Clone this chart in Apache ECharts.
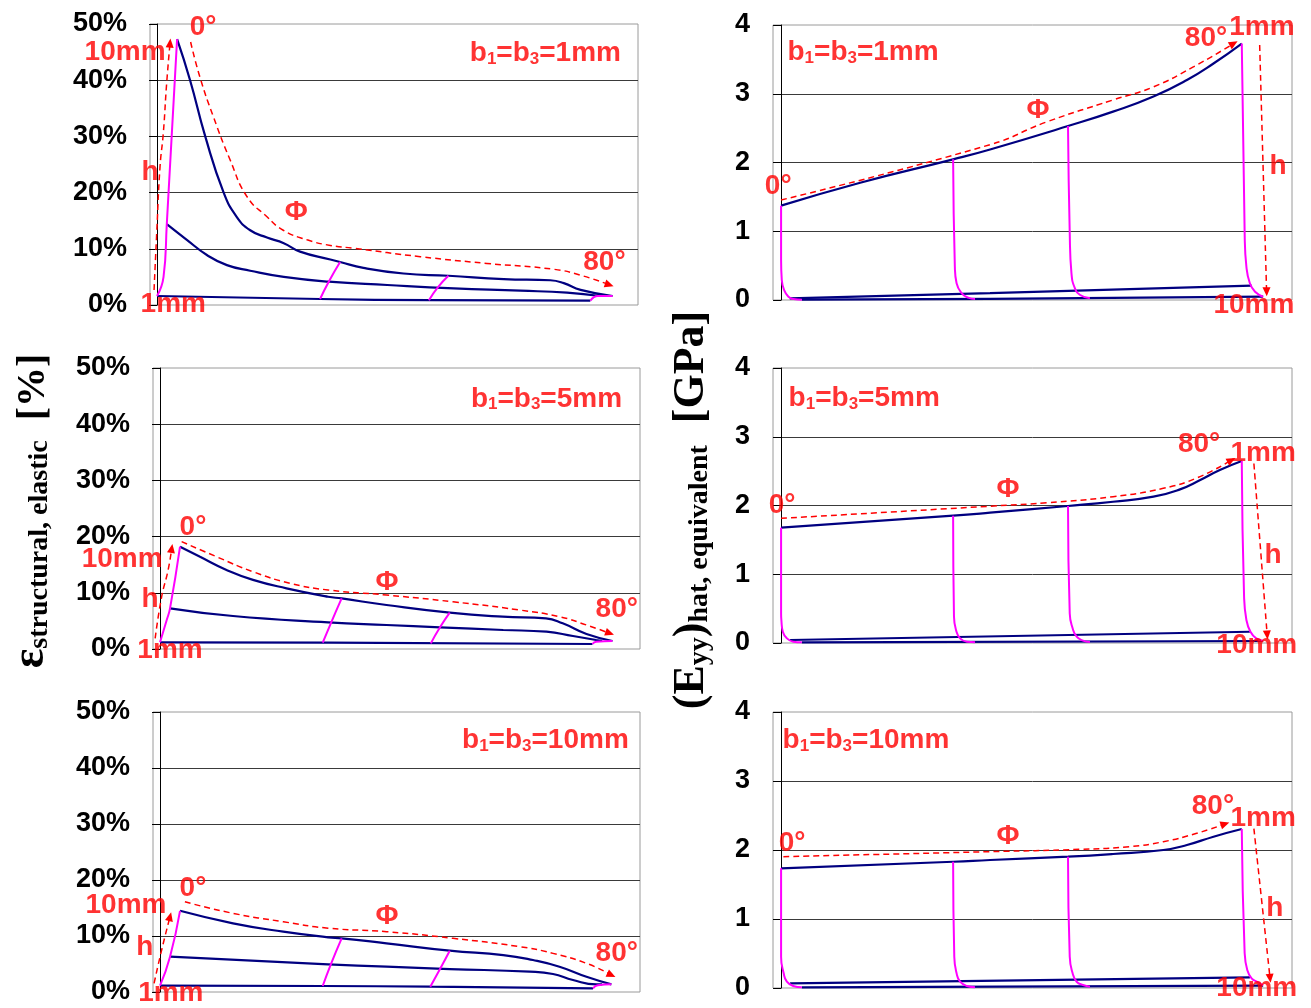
<!DOCTYPE html>
<html>
<head>
<meta charset="utf-8">
<script src="https://cdn.jsdelivr.net/npm/echarts@6/dist/echarts.min.js"></script>
<style>
  html, body { margin: 0; padding: 0; background: #fff; }
  #chart { width: 1311px; height: 1008px; }
</style>
</head>
<body>
<div id="chart"></div>
<script>
// tick labels
const strainTickLabels = ['0%', '10%', '20%', '30%', '40%', '50%'];
const modulusTickLabels = ['0', '1', '2', '3', '4'];
// b1 = b3 for the three rows
const bValues = [1, 5, 10];

// x is the carpet position (phi in degrees, shifted a little for each h), y the value
// ---- top left: strain, b=1mm
const tl_h10 = [[3.7,47.3],[6.1,40],[8.9,30],[12.3,20],[14.7,15.7],[17.2,13.3],[20.3,12.0],[23.4,11.0],[26.4,9.5],[32.0,8.1],[33.8,7.65],[38.1,6.6],[45.5,5.6],[53.8,5.2],[64.0,4.6],[72.6,4.4],[75.1,3.9],[78.2,2.7],[84.1,1.6]];
const tl_hmid = [[1.8,14.4],[5.5,11.6],[9.2,8.9],[12.9,7.1],[17.2,6.1],[23.4,5.0],[31.7,4.15],[42.5,3.56],[54.8,2.97],[67.1,2.55],[75.7,2.19],[81.8,1.6]];
const tl_h1 = [[0,1.6],[30.1,1.07],[50.2,0.85],[80,0.77]];
const tl_p0 = [[0,1.6],[1.2,5.0],[1.8,14.4],[3.7,47.3]];
const tl_p30 = [[30.1,1.07],[31.7,4.15],[33.8,7.65]];
const tl_p50 = [[50.2,0.85],[51.8,3.1],[53.8,5.2]];
const tl_p80 = [[80,0.77],[81.4,1.6],[84.1,1.6]];
const tl_arrowH = [[-0.55,2.67],[-0.06,12.8],[0.55,24.6],[1.16,30.6],[1.78,39.5],[2.4,46.6]];
const tl_arrowPhi = [[6.2,46.8],[7.9,40.6],[10.4,33.5],[13.5,25.8],[16.6,19.3],[20.3,15.7],[23.3,13.3],[27.7,11.6],[32.0,10.6],[36.3,10.1],[48.6,8.6],[60.9,7.4],[73.3,6.35],[78.2,5.3],[83.5,3.6]];
const tl_labels = [[8.5,49.5,'0°'],[-5.9,45.0,'10mm'],[-1.3,23.7,'h'],[25.7,16.5,'Φ'],[82.6,7.65,'80°'],[3.0,0.2,'1mm']];
const tl_title = [71.7,45.0];

// ---- top right: modulus, b=1mm
const tr_h1 = [[0,1.372],[13.7,1.706],[29.8,2.046],[36.2,2.19],[49.7,2.53],[57.5,2.74],[64.5,2.96],[70.3,3.2],[74.9,3.44],[79.8,3.73]];
const tr_hmid = [[1.5,0.025],[36.2,0.1],[81.5,0.21]];
const tr_h10 = [[3.6,0.005],[36.2,0.015],[83.5,0.048]];
const tr_p0 = [[0,1.372],[0,0.582],[0.12,0.291],[0.52,0.145],[1.27,0.048],[2.13,0.015],[3.6,0.005]];
const tr_p30 = [[29.8,2.046],[30.1,0.485],[30.4,0.243],[31.3,0.097],[32.4,0.034],[33.6,0.015]];
const tr_p50 = [[49.7,2.53],[50.0,0.97],[50.3,0.388],[50.9,0.17],[51.8,0.073],[53.5,0.025]];
const tr_p80 = [[79.8,3.73],[80.3,0.97],[80.6,0.485],[81.2,0.243],[82.1,0.12],[83.5,0.048]];
const tr_arrowH = [[82.9,3.71],[84.1,0.12]];
const tr_arrowPhi = [[0,1.455],[36.2,2.26],[46.0,2.59],[57.5,2.91],[64.5,3.10],[71.4,3.39],[78.4,3.73]];
const tr_labels = [[-0.5,1.66,'0°'],[44.5,2.76,'Φ'],[73.6,3.81,'80°'],[83.3,3.97,'1mm'],[86.1,1.95,'h'],[81.9,-0.07,'10mm']];
const tr_title = [14.2,3.62];

// ---- middle left: strain, b=5mm
const ml_h10 = [[3.7,18.2],[7.4,16.4],[12.3,14.06],[17.2,12.3],[23.4,10.8],[31.1,9.3],[33.6,9.0],[41.9,7.83],[53.6,6.46],[63.4,5.75],[71.4,5.46],[74.5,4.57],[78.9,2.67],[83.7,1.42]];
const ml_hmid = [[1.85,7.24],[13.5,5.87],[31.1,4.75],[41.9,4.27],[51.8,3.86],[63.5,3.38],[71.5,3.08],[76.4,2.31],[80.7,1.6],[81.8,1.45]];
const ml_h1 = [[0,1.19],[31.1,1.12],[80,0.89]];
const ml_p0 = [[0,1.19],[1.24,5.16],[1.85,7.24],[3.7,18.2]];
const ml_p30 = [[30.1,1.12],[31.7,4.8],[33.6,9.0]];
const ml_p50 = [[50.1,1.0],[51.8,3.86],[53.6,6.46]];
const ml_p80 = [[80,0.89],[80.7,1.3],[83.7,1.42]];
const ml_arrowH = [[-0.9,1.9],[0.3,9.3],[1.5,14.06],[2.16,17.9]];
const ml_arrowPhi = [[4.0,19.1],[10.5,16.4],[17.2,13.75],[24.0,11.7],[31.1,10.5],[41.9,9.6],[54.2,8.4],[66.5,6.94],[73.9,5.75],[78.9,4.27],[83.2,2.79]];
const ml_labels = [[6.1,21.7,'0°'],[-7.0,16.0,'10mm'],[-1.85,8.9,'h'],[42.0,11.9,'Φ'],[84.5,7.1,'80°'],[1.85,-0.2,'1mm']];
const ml_title = [71.5,44.7];

// ---- middle right: modulus, b=5mm
const mr_h1 = [[0,1.677],[29.8,1.852],[36.2,1.895],[49.7,1.993],[57.5,2.055],[64.5,2.128],[69.1,2.235],[72.6,2.37],[76.0,2.516],[79.8,2.647]];
const mr_hmid = [[1.56,0.044],[81.2,0.164]];
const mr_h10 = [[3.6,0.01],[83.5,0.029]];
const mr_p0 = [[0,1.677],[0,0.43],[0.05,0.335],[0.3,0.164],[1.0,0.068],[2.1,0.019],[3.6,0.01]];
const mr_p30 = [[29.8,1.852],[29.95,0.383],[30.3,0.19],[31.0,0.068],[32.2,0.019],[33.6,0.012]];
const mr_p50 = [[49.7,1.993],[50.0,0.43],[50.5,0.214],[51.2,0.092],[52.3,0.034],[53.5,0.015]];
const mr_p80 = [[79.8,2.647],[80.2,0.673],[80.6,0.335],[81.3,0.164],[82.3,0.068],[83.5,0.034]];
const mr_arrowH = [[81.9,2.61],[84.2,0.116]];
const mr_arrowPhi = [[0,1.813],[36.2,1.99],[46.0,2.04],[57.5,2.128],[66.2,2.25],[72.0,2.4],[78.0,2.66]];
const mr_labels = [[0.17,2.007,'0°'],[39.3,2.24,'Φ'],[72.4,2.89,'80°'],[83.5,2.76,'1mm'],[85.2,1.28,'h'],[82.4,-0.03,'10mm']];
const mr_title = [14.4,3.58];

// ---- bottom left: strain, b=10mm
const bl_h10 = [[3.7,14.5],[13.5,12.26],[22.8,10.77],[31.1,9.77],[33.6,9.59],[41.9,8.69],[53.6,7.38],[63.5,6.6],[69.0,5.71],[73.9,4.52],[78.9,2.73],[83.5,1.37]];
const bl_hmid = [[1.85,6.3],[31.1,4.94],[41.9,4.52],[53.6,4.1],[68.4,3.63],[72.7,3.21],[76.4,2.14],[80.7,1.37],[81.8,1.37]];
const bl_h1 = [[0,1.13],[30.1,1.07],[50,0.95],[80.1,0.66]];
const bl_p0 = [[0,1.13],[1.85,6.3],[3.7,14.5]];
const bl_p30 = [[30.1,1.07],[31.6,4.94],[33.6,9.59]];
const bl_p50 = [[50.0,0.95],[51.8,4.1],[53.6,7.38]];
const bl_p80 = [[80.1,0.66],[81.0,1.2],[83.5,1.37]];
const bl_arrowH = [[-1.1,1.55],[0.3,7.5],[1.85,13.45]];
const bl_arrowPhi = [[4.6,16.1],[13.5,14.05],[22.8,12.55],[31.1,11.4],[41.9,10.77],[54.2,9.59],[66.5,8.1],[72.7,6.9],[78.9,5.12],[83.5,3.04]];
const bl_labels = [[6.1,18.6,'0°'],[-6.3,15.5,'10mm'],[-2.8,8.0,'h'],[42.0,13.6,'Φ'],[84.5,7.0,'80°'],[2.0,-0.2,'1mm']];
const bl_title = [71.3,45.2];

// ---- bottom right: modulus, b=10mm
const br_h1 = [[0,1.734],[29.8,1.83],[36.2,1.855],[49.7,1.903],[57.5,1.942],[66.2,2.0],[70.3,2.072],[74.9,2.193],[79.8,2.304]];
const br_hmid = [[1.56,0.068],[81.2,0.155]];
const br_h10 = [[3.6,0.01],[83.5,0.033]];
const br_p0 = [[0,1.734],[0,0.454],[0.45,0.213],[1.0,0.091],[2.1,0.029],[3.6,0.01]];
const br_p30 = [[29.8,1.83],[30.0,0.454],[30.4,0.213],[31.0,0.091],[32.2,0.029],[33.6,0.012]];
const br_p50 = [[49.7,1.903],[50.0,0.454],[50.5,0.213],[51.2,0.091],[52.3,0.043],[53.5,0.019]];
const br_p80 = [[79.8,2.304],[80.3,0.503],[80.75,0.261],[81.5,0.14],[82.65,0.083],[83.5,0.04]];
const br_arrowH = [[81.9,2.31],[84.7,0.14]];
const br_arrowPhi = [[0.4,1.903],[36.2,1.976],[51.8,2.01],[60.4,2.048],[66.2,2.12],[72.0,2.242],[76.9,2.377]];
const br_labels = [[1.9,2.10,'0°'],[39.3,2.20,'Φ'],[74.8,2.64,'80°'],[83.5,2.46,'1mm'],[85.5,1.16,'h'],[82.4,0.0,'10mm']];
const br_title = [14.7,3.61];

const NAVY = '#000080';
const MAGENTA = '#ff00ff';
const RED = '#ff0000';
const SANS = 'Liberation Sans, Arial, sans-serif';
const SERIF = 'Liberation Serif, Times New Roman, serif';

const panels = [
  { grid: { left: 150, top: 24, width: 488, height: 281 }, kind: 'strain', b: bValues[0],
    navy: [tl_h10, tl_hmid, tl_h1], phi: [tl_p0, tl_p30, tl_p50, tl_p80], arrows: [tl_arrowH, tl_arrowPhi], labels: tl_labels, title: tl_title },
  { grid: { left: 773, top: 25, width: 519, height: 275 }, kind: 'modulus', b: bValues[0],
    navy: [tr_h1, tr_hmid, tr_h10], phi: [tr_p0, tr_p30, tr_p50, tr_p80], arrows: [tr_arrowH, tr_arrowPhi], labels: tr_labels, title: tr_title },
  { grid: { left: 153, top: 368, width: 487, height: 281 }, kind: 'strain', b: bValues[1],
    navy: [ml_h10, ml_hmid, ml_h1], phi: [ml_p0, ml_p30, ml_p50, ml_p80], arrows: [ml_arrowH, ml_arrowPhi], labels: ml_labels, title: ml_title },
  { grid: { left: 773, top: 368, width: 519, height: 275 }, kind: 'modulus', b: bValues[1],
    navy: [mr_h1, mr_hmid, mr_h10], phi: [mr_p0, mr_p30, mr_p50, mr_p80], arrows: [mr_arrowH, mr_arrowPhi], labels: mr_labels, title: mr_title },
  { grid: { left: 153, top: 712, width: 487, height: 280 }, kind: 'strain', b: bValues[2],
    navy: [bl_h10, bl_hmid, bl_h1], phi: [bl_p0, bl_p30, bl_p50, bl_p80], arrows: [bl_arrowH, bl_arrowPhi], labels: bl_labels, title: bl_title },
  { grid: { left: 773, top: 712, width: 519, height: 276 }, kind: 'modulus', b: bValues[2],
    navy: [br_h1, br_hmid, br_h10], phi: [br_p0, br_p30, br_p50, br_p80], arrows: [br_arrowH, br_arrowPhi], labels: br_labels, title: br_title }
];

const chart = echarts.init(document.getElementById('chart'));

const grids = [], xAxes = [], yAxes = [], series = [];
panels.forEach((p, i) => {
  const strain = p.kind === 'strain';
  grids.push(Object.assign({ show: true, borderColor: '#9a9a9a', borderWidth: 1 }, p.grid));
  xAxes.push({ type: 'value', gridIndex: i, min: strain ? -1.3 : -1.4, max: strain ? 88.8 : 88.5, show: false });
  yAxes.push({
    type: 'value', gridIndex: i, min: 0, max: strain ? 50 : 4, interval: strain ? 10 : 1,
    axisLine: { show: true, lineStyle: { color: '#000', width: 1 } },
    axisTick: { show: true, length: 8, lineStyle: { color: '#000' } },
    axisLabel: {
      margin: 23, color: '#000', fontSize: 27, fontWeight: 'bold', fontFamily: SANS,
      formatter: v => strain ? strainTickLabels[Math.round(v / 10)] : modulusTickLabels[Math.round(v)]
    },
    splitLine: { show: true, showMinLine: false, showMaxLine: false, lineStyle: { color: '#3a3a3a', width: 1 } }
  });
  p.navy.forEach(d => series.push({
    type: 'line', xAxisIndex: i, yAxisIndex: i, data: d, smooth: true, symbol: 'none', silent: true,
    lineStyle: { color: NAVY, width: 2.2 }, z: 2
  }));
  p.phi.forEach(d => series.push({
    type: 'line', xAxisIndex: i, yAxisIndex: i, data: d, smooth: true, symbol: 'none', silent: true,
    lineStyle: { color: MAGENTA, width: 2 }, z: 3
  }));
  p.arrows.forEach((d, k) => series.push({
    id: 'arrow' + i + '_' + k,
    type: 'line', xAxisIndex: i, yAxisIndex: i, data: d, smooth: true, symbol: 'none', showSymbol: true, silent: true,
    lineStyle: { color: RED, width: 1.5, type: [6, 4] }, itemStyle: { color: RED }, z: 4
  }));
  series.push({
    type: 'scatter', xAxisIndex: i, yAxisIndex: i, clip: false, silent: true, symbolSize: 1,
    itemStyle: { color: 'rgba(0,0,0,0)' }, z: 5,
    data: p.labels.map(l => ({ value: [l[0], l[1]], name: l[2] })),
    label: { show: true, position: 'inside', formatter: '{b}', color: RED, fontSize: 28, fontWeight: 'bold', fontFamily: SANS }
  });
  series.push({
    type: 'scatter', xAxisIndex: i, yAxisIndex: i, clip: false, silent: true, symbolSize: 1,
    itemStyle: { color: 'rgba(0,0,0,0)' }, z: 5,
    data: [{ value: p.title, name: String(p.b) }],
    label: {
      show: true, position: 'inside',
      formatter: q => '{n|b}{s|1}{n|=b}{s|3}{n|=' + q.name + 'mm}',
      rich: {
        n: { color: RED, fontSize: 28, fontWeight: 'bold', fontFamily: SANS, lineHeight: 31, verticalAlign: 'bottom' },
        s: { color: RED, fontSize: 17, fontWeight: 'bold', fontFamily: SANS, lineHeight: 14, verticalAlign: 'bottom' }
      }
    }
  });
});

const option = {
  animation: false,
  backgroundColor: '#fff',
  grid: grids,
  xAxis: xAxes,
  yAxis: yAxes,
  series: series,
  graphic: [
    {
      type: 'text', x: 31, y: 511, rotation: Math.PI / 2, silent: true,
      style: {
        text: '{e|ε}{s|structural, elastic}{b|  [%]}',
        align: 'center', verticalAlign: 'middle',
        rich: {
          e: { fontFamily: SERIF, fontSize: 46, fontWeight: 'bold', lineHeight: 46, verticalAlign: 'bottom', fill: '#000' },
          s: { fontFamily: SERIF, fontSize: 28, fontWeight: 'bold', lineHeight: 30, verticalAlign: 'bottom', fill: '#000' },
          b: { fontFamily: SERIF, fontSize: 40, fontWeight: 'bold', lineHeight: 46, verticalAlign: 'bottom', fill: '#000' }
        }
      }
    },
    {
      type: 'text', x: 691, y: 510, rotation: Math.PI / 2, silent: true,
      style: {
        text: '{b|(E}{s|yy}{b|)}{s|hat, equivalent}{b|  [GPa]}',
        align: 'center', verticalAlign: 'middle',
        rich: {
          b: { fontFamily: SERIF, fontSize: 44, fontWeight: 'bold', lineHeight: 46, verticalAlign: 'bottom', fill: '#000' },
          s: { fontFamily: SERIF, fontSize: 28, fontWeight: 'bold', lineHeight: 30, verticalAlign: 'bottom', fill: '#000' }
        }
      }
    }
  ]
};

chart.setOption(option);

// put an arrow head on the end of each dashed red curve, turned along its last segment
const arrowUpdates = [];
panels.forEach((p, i) => {
  p.arrows.forEach((d, k) => {
    const n = d.length;
    const a = chart.convertToPixel({ gridIndex: i }, d[n - 2]);
    const b = chart.convertToPixel({ gridIndex: i }, d[n - 1]);
    const ang = Math.atan2(a[1] - b[1], b[0] - a[0]) * 180 / Math.PI;
    arrowUpdates.push({
      id: 'arrow' + i + '_' + k,
      data: d.map((pt, j) => j === n - 1
        ? { value: pt, symbol: 'triangle', symbolSize: [8, 9], symbolRotate: ang - 90 }
        : pt)
    });
  });
});
chart.setOption({ series: arrowUpdates });
</script>
</body>
</html>
